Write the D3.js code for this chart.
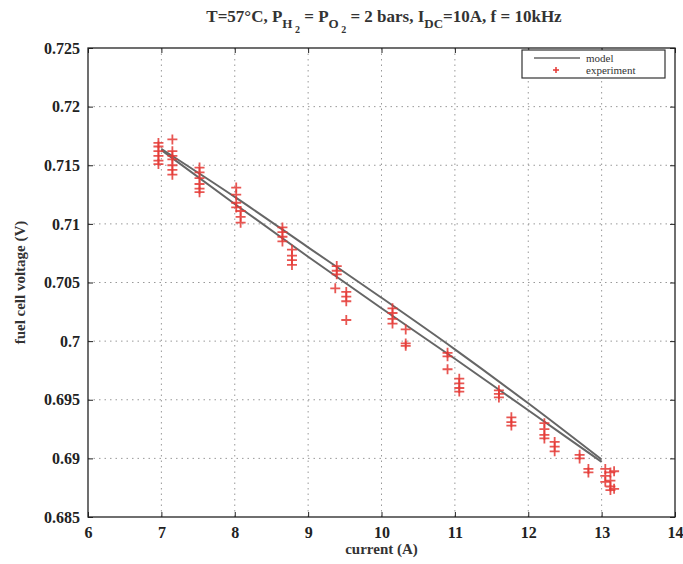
<!doctype html>
<html lang="en">
<head>
<meta charset="UTF-8" />
<title>Fuel cell voltage vs current</title>
<script src="https://d3js.org/d3.v7.min.js"></script>
<style>
  body { margin: 0; background: #fff; font-family: 'Liberation Serif', serif; }
  svg text { font-family: 'Liberation Serif', serif; }
  .tick-label { font-size: 16px; font-weight: bold; fill: #222; }
  .grid line { stroke: #999; stroke-dasharray: 1.5 4; stroke-width: 1; }
</style>
</head>
<body>
<div id="chart"></div>
<script>
var canvasWidth = 683;
var canvasHeight = 564;
var margin = { top: 48, right: 8, bottom: 47, left: 88 };
var width = canvasWidth - margin.left - margin.right;
var height = canvasHeight - margin.top - margin.bottom;

// axis ticks
var xTicks = [6, 7, 8, 9, 10, 11, 12, 13, 14];
var yTicks = [0.685, 0.69, 0.695, 0.7, 0.705, 0.71, 0.715, 0.72, 0.725];

// model curves (two lines)
var modelCurrent = [7, 8, 9, 10, 11, 12, 13];
var modelUpper = [0.7164, 0.7123, 0.7080, 0.7037, 0.6993, 0.6947, 0.6899];
var modelLower = [0.7163, 0.7117, 0.7072, 0.7028, 0.6985, 0.6941, 0.6897];

// experiment points
var expCurrent = [
  6.96, 6.96, 6.96, 6.96, 6.96, 6.96,
  7.15, 7.15, 7.15, 7.15, 7.15, 7.15, 7.15,
  7.52, 7.52, 7.52, 7.52, 7.52, 7.52,
  8.02, 8.02, 8.02, 8.02,
  8.08, 8.08, 8.08,
  8.65, 8.65, 8.65, 8.65,
  8.78, 8.78, 8.78, 8.78,
  9.39, 9.39, 9.39, 9.37,
  9.52, 9.52, 9.52, 9.52,
  10.15, 10.15, 10.15, 10.15,
  10.33, 10.33, 10.33,
  10.9, 10.9, 10.9,
  11.06, 11.06, 11.06, 11.06,
  11.6, 11.6, 11.6,
  11.77, 11.77, 11.77,
  12.22, 12.22, 12.22, 12.22,
  12.36, 12.36, 12.36,
  12.7, 12.7,
  12.82, 12.82,
  13.05, 13.05, 13.05,
  13.12, 13.12, 13.12, 13.12,
  13.17, 13.17
];
var expVoltage = [
  0.7169, 0.7166, 0.7162, 0.7158, 0.7154, 0.7151,
  0.7172, 0.7162, 0.7158, 0.7155, 0.7150, 0.7146, 0.7142,
  0.7148, 0.7144, 0.7139, 0.7134, 0.7130, 0.7127,
  0.7131, 0.7125, 0.7118, 0.7114,
  0.7111, 0.7106, 0.7101,
  0.7097, 0.7093, 0.7089, 0.7085,
  0.7078, 0.7073, 0.7069, 0.7065,
  0.7064, 0.7060, 0.7057, 0.7045,
  0.7042, 0.7038, 0.7034, 0.7018,
  0.7028, 0.7024, 0.7019, 0.7015,
  0.7010, 0.6998, 0.6996,
  0.6990, 0.6987, 0.6976,
  0.6968, 0.6964, 0.6960, 0.6957,
  0.6958, 0.6955, 0.6952,
  0.6935, 0.6931, 0.6928,
  0.6930, 0.6925, 0.6920, 0.6917,
  0.6914, 0.6910, 0.6906,
  0.6903, 0.6900,
  0.6891, 0.6888,
  0.6891, 0.6885, 0.6880,
  0.6888, 0.6881, 0.6876, 0.6873,
  0.6889, 0.6874
];

var svg = d3.select('#chart').append('svg')
  .attr('width', canvasWidth)
  .attr('height', canvasHeight);

var g = svg.append('g')
  .attr('transform', 'translate(' + margin.left + ',' + margin.top + ')');

var x = d3.scaleLinear().domain([6, 14]).range([0, width]);
var y = d3.scaleLinear().domain([0.685, 0.725]).range([height, 0]);

// grid
g.append('g').attr('class', 'grid')
  .selectAll('line')
  .data(xTicks.slice(1, -1))
  .enter().append('line')
  .attr('x1', function (d) { return x(d); })
  .attr('x2', function (d) { return x(d); })
  .attr('y1', 0).attr('y2', height);

g.append('g').attr('class', 'grid')
  .selectAll('line')
  .data(yTicks.slice(1, -1))
  .enter().append('line')
  .attr('y1', function (d) { return y(d); })
  .attr('y2', function (d) { return y(d); })
  .attr('x1', 0).attr('x2', width);

// axes with inward ticks
function styleAxis(sel) {
  sel.attr('font-family', null).attr('font-size', null);
  sel.select('.domain').remove();
  sel.selectAll('line').attr('stroke', '#222');
  sel.selectAll('text').attr('class', 'tick-label').attr('fill', '#222');
}
g.append('g').attr('transform', 'translate(0,' + height + ')')
  .call(d3.axisBottom(x).tickValues(xTicks).tickSizeInner(-5).tickSizeOuter(0).tickPadding(10).tickFormat(d3.format('d')))
  .call(styleAxis);
g.append('g')
  .call(d3.axisTop(x).tickValues(xTicks).tickSizeInner(-5).tickSizeOuter(0).tickFormat(''))
  .call(styleAxis);
g.append('g')
  .call(d3.axisLeft(y).tickValues(yTicks).tickSizeInner(-5).tickSizeOuter(0).tickPadding(8).tickFormat(function (d) { return String(+d.toFixed(3)); }))
  .call(styleAxis);
g.append('g').attr('transform', 'translate(' + width + ',0)')
  .call(d3.axisRight(y).tickValues(yTicks).tickSizeInner(-5).tickSizeOuter(0).tickFormat(''))
  .call(styleAxis);

// frame
g.append('rect')
  .attr('width', width).attr('height', height)
  .attr('fill', 'none').attr('stroke', '#222').attr('stroke-width', 1.3);

// model lines
var line = d3.line()
  .curve(d3.curveMonotoneX)
  .x(function (d) { return x(d[0]); })
  .y(function (d) { return y(d[1]); });
[modelUpper, modelLower].forEach(function (vals) {
  g.append('path')
    .datum(modelCurrent.map(function (c, i) { return [c, vals[i]]; }))
    .attr('d', line)
    .attr('fill', 'none')
    .attr('stroke', '#666')
    .attr('stroke-width', 2);
});

// experiment markers
var plus = 'M-5,0H5M0,-5V5';
g.append('g').selectAll('path')
  .data(expCurrent.map(function (c, i) { return [c, expVoltage[i]]; }))
  .enter().append('path')
  .attr('transform', function (d) { return 'translate(' + x(d[0]) + ',' + y(d[1]) + ')'; })
  .attr('d', plus)
  .attr('stroke', '#e53935')
  .attr('stroke-width', 1.8)
  .attr('opacity', 0.85);

// legend
var lg = svg.append('g').attr('transform', 'translate(522,50)');
lg.append('rect').attr('width', 143).attr('height', 28)
  .attr('fill', '#fff').attr('stroke', '#333').attr('stroke-width', 1.2);
lg.append('line').attr('x1', 12).attr('x2', 58).attr('y1', 8).attr('y2', 8)
  .attr('stroke', '#666').attr('stroke-width', 1.5);
lg.append('path').attr('transform', 'translate(34,20)').attr('d', 'M-3,0H3M0,-3V3')
  .attr('stroke', '#e53935').attr('stroke-width', 1.5);
lg.append('text').attr('x', 64).attr('y', 11.5).text('model')
  .attr('font-size', '11px').attr('fill', '#333');
lg.append('text').attr('x', 64).attr('y', 23.5).text('experiment')
  .attr('font-size', '11px').attr('fill', '#333');

// title
var title = svg.append('text')
  .attr('x', 384).attr('y', 22)
  .attr('text-anchor', 'middle')
  .attr('font-size', '17px').attr('font-weight', 'bold').attr('fill', '#333');
title.append('tspan').text('T=57°C, P');
title.append('tspan').attr('font-size', '13px').attr('dy', 6).text('H');
title.append('tspan').attr('font-size', '10px').attr('dy', 5).text(' 2');
title.append('tspan').attr('dy', -11).text('  = P');
title.append('tspan').attr('font-size', '13px').attr('dy', 6).text('O');
title.append('tspan').attr('font-size', '10px').attr('dy', 5).text(' 2');
title.append('tspan').attr('dy', -11).text('  = 2 bars, I');
title.append('tspan').attr('font-size', '13px').attr('dy', 6).text('DC');
title.append('tspan').attr('dy', -6).text('=10A, f = 10kHz');

// axis labels
svg.append('text')
  .attr('x', margin.left + width / 2).attr('y', 554)
  .attr('text-anchor', 'middle')
  .attr('font-size', '15px').attr('font-weight', 'bold').attr('fill', '#333')
  .text('current (A)');
svg.append('text')
  .attr('transform', 'translate(25,' + (margin.top + height / 2) + ') rotate(-90)')
  .attr('text-anchor', 'middle')
  .attr('font-size', '15px').attr('font-weight', 'bold').attr('fill', '#333')
  .text('fuel cell voltage (V)');
</script>
</body>
</html>
